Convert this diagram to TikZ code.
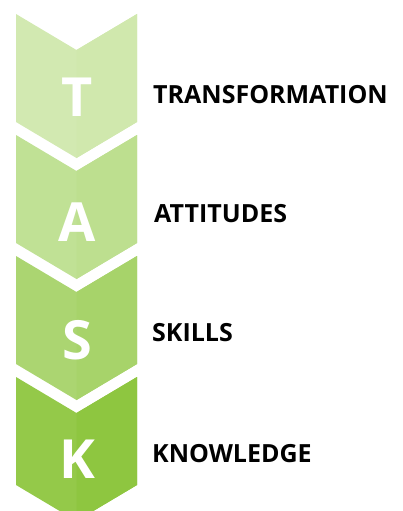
\documentclass[tikz,border=0pt]{standalone}
\usepackage{fontspec}
\setmainfont{Open Sans}
\usepackage{tikz}
\usetikzlibrary{positioning}
\usetikzlibrary{calc}

\definecolor{tgreenA}{HTML}{D0E8AD}
\definecolor{tgreenB}{HTML}{BDDF8F}
\definecolor{tgreenC}{HTML}{A7D36A}
\definecolor{tgreenD}{HTML}{8EC640}

% one chevron: #1 top edge, #2 colour (right half a touch darker)
\newcommand{\taskchevron}[2]{%
    \fill[#2!95!white] (16,#1) -- (76.5,#1+36) -- (137,#1) -- (137,#1+108) -- (76.5,#1+144) -- (16,#1+108) -- cycle;
    \fill[#2] (76.5,#1+36) -- (137,#1) -- (137,#1+108) -- (76.5,#1+144) -- cycle;
}

\begin{document}
\begin{tikzpicture}[x=1pt, y=-1pt,
    letter/.style={text=white, font=\bfseries\fontsize{54}{54}\selectfont, inner sep=0pt},
    word/.style={text=black, font=\bfseries\fontsize{25}{25}\selectfont, inner sep=0pt, anchor=west}]

    \useasboundingbox (0,0) rectangle (403,511);
    \clip (0,0) rectangle (403,511);

    \taskchevron{14}{tgreenA}
    \taskchevron{135}{tgreenB}
    \taskchevron{256}{tgreenC}
    \taskchevron{377}{tgreenD}

    \node[letter] (t) at (77,97) {T};
    \node[letter] (a) at (77,222) {A};
    \node[letter] (s) at (77,340) {S};
    \node[letter] (k) at (77,459) {K};

    \node[word] (transformation) at (153,94.5) {TRANSFORMATION};
    \node[word] (attitudes) at (154,214) {ATTITUDES};
    \node[word] (skills) at (152,333) {SKILLS};
    \node[word] (knowledge) at (152,454) {KNOWLEDGE};

\end{tikzpicture}
\end{document}
